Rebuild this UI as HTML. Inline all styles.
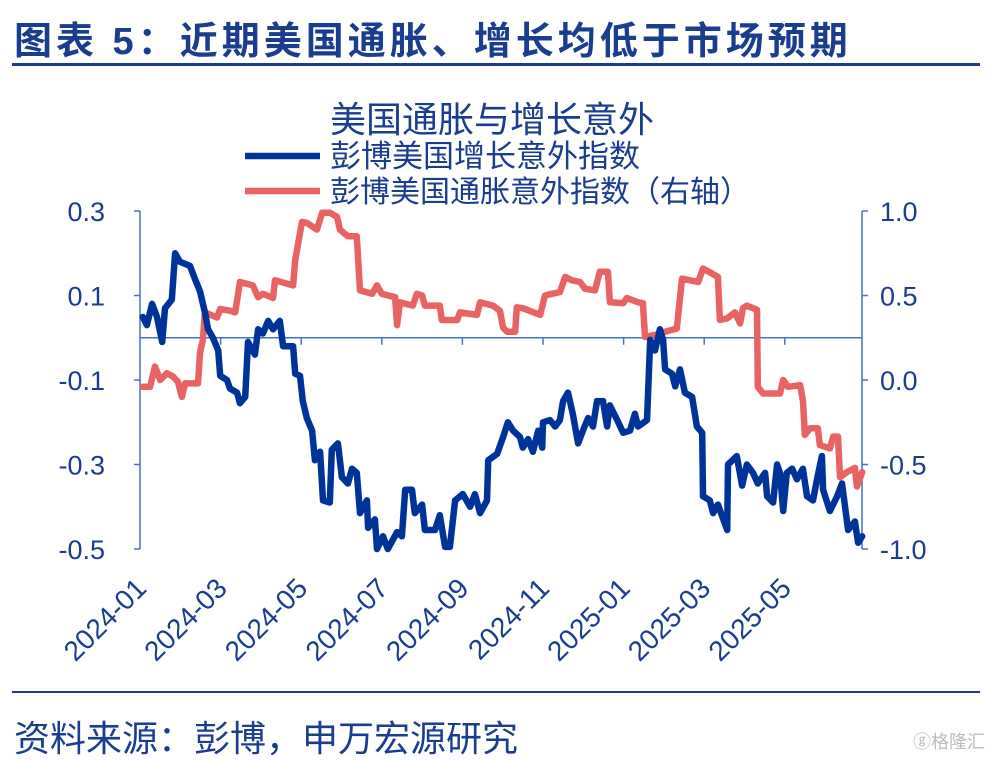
<!DOCTYPE html>
<html><head><meta charset="utf-8">
<style>
body{margin:0;background:#fff;}
svg{display:block;font-family:"Liberation Sans","Noto Sans CJK SC",sans-serif;}
</style></head>
<body>
<svg id="chart" width="990" height="760" viewBox="0 0 990 760" xmlns="http://www.w3.org/2000/svg">
<text x="14" y="54" font-size="38" letter-spacing="4" font-weight="bold" fill="#1a3d8f">图表 5：近期美国通胀、增长均低于市场预期</text>
<rect x="12" y="63" width="968" height="3" fill="#1a3d8f"/>
<text x="330" y="132" font-size="36" fill="#1a3d8f">美国通胀与增长意外</text>
<g>
<line x1="245" y1="156" x2="320" y2="156" stroke="#003399" stroke-width="6.5"/>
<text x="330" y="167" font-size="31" fill="#1a3d8f">彭博美国增长意外指数</text>
</g>
<g>
<line x1="245" y1="191" x2="320" y2="191" stroke="#e86464" stroke-width="6.5"/>
<text x="330" y="202" font-size="30" fill="#1a3d8f">彭博美国通胀意外指数（右轴）</text>
</g>
<g id="axes"></g>
<g id="series"></g>
<rect x="12" y="691" width="968" height="2" fill="#1a3d8f"/>
<text x="14" y="751" font-size="36" fill="#1a3d8f">资料来源：彭博，申万宏源研究</text>
<text x="985" y="748" font-size="18" text-anchor="end" fill="#bbbbbb">ⓖ格隆汇</text>
</svg>
<script>
const leftTicks=[0.3,0.1,-0.1,-0.3,-0.5];
const leftTickLabels=["0.3","0.1","-0.1","-0.3","-0.5"];
const rightTicks=[1.0,0.5,0.0,-0.5,-1.0];
const rightTickLabels=["1.0","0.5","0.0","-0.5","-1.0"];
const monthTicks=[0,2,4,6,8,10,12,14,16];
const monthLabels=["2024-01","2024-03","2024-05","2024-07","2024-09","2024-11","2025-01","2025-03","2025-05"];
const growthMonths=[0.07,0.17,0.30,0.42,0.55,0.62,0.79,0.87,0.99,1.24,1.36,1.49,1.61,1.69,1.81,1.94,1.99,2.16,2.23,2.41,2.48,2.61,2.68,2.85,2.93,3.05,3.18,3.30,3.47,3.55,3.80,3.85,3.97,4.04,4.14,4.27,4.34,4.47,4.54,4.71,4.76,4.91,5.01,5.16,5.26,5.38,5.46,5.63,5.66,5.83,5.88,6.03,6.15,6.38,6.50,6.58,6.75,6.82,7.00,7.07,7.32,7.44,7.57,7.69,7.82,8.01,8.19,8.31,8.44,8.61,8.64,8.86,9.01,9.13,9.26,9.43,9.50,9.63,9.75,9.88,9.98,10.00,10.17,10.30,10.42,10.50,10.62,10.74,10.87,10.99,11.12,11.24,11.34,11.49,11.59,11.66,11.84,11.99,12.16,12.28,12.36,12.58,12.66,12.78,12.90,12.98,13.03,13.20,13.28,13.40,13.52,13.70,13.82,13.95,13.97,14.14,14.22,14.34,14.57,14.59,14.81,14.94,15.06,15.21,15.33,15.51,15.56,15.71,15.81,15.88,15.96,16.05,16.18,16.30,16.45,16.55,16.70,16.80,16.92,16.95,17.12,17.30,17.42,17.57,17.74,17.82,17.92];
const growthValues=[0.049,0.03,0.08,0.05,-0.01,0.07,0.09,0.2,0.18,0.17,0.14,0.11,0.06,0.02,0,-0.03,-0.09,-0.1,-0.12,-0.13,-0.155,-0.14,-0.01,-0.04,0.02,0.01,0.04,0.02,0.04,-0.02,-0.02,-0.085,-0.09,-0.15,-0.19,-0.22,-0.29,-0.27,-0.385,-0.39,-0.265,-0.25,-0.33,-0.345,-0.31,-0.32,-0.415,-0.385,-0.45,-0.43,-0.5,-0.47,-0.5,-0.46,-0.47,-0.36,-0.36,-0.415,-0.395,-0.455,-0.455,-0.42,-0.495,-0.495,-0.385,-0.37,-0.4,-0.37,-0.415,-0.385,-0.29,-0.275,-0.235,-0.2,-0.22,-0.235,-0.26,-0.24,-0.27,-0.22,-0.26,-0.2,-0.195,-0.21,-0.195,-0.15,-0.13,-0.18,-0.25,-0.22,-0.19,-0.21,-0.15,-0.15,-0.21,-0.16,-0.195,-0.225,-0.22,-0.18,-0.21,-0.195,-0.005,-0.03,0.02,-0.005,-0.075,-0.085,-0.115,-0.075,-0.13,-0.14,-0.21,-0.225,-0.375,-0.385,-0.415,-0.395,-0.455,-0.3,-0.28,-0.35,-0.3,-0.32,-0.345,-0.32,-0.375,-0.39,-0.3,-0.32,-0.41,-0.32,-0.31,-0.335,-0.31,-0.375,-0.385,-0.335,-0.28,-0.36,-0.41,-0.375,-0.345,-0.455,-0.435,-0.485,-0.47];
const inflationMonths=[0.07,0.25,0.37,0.50,0.67,0.82,0.94,1.04,1.12,1.44,1.49,1.56,1.61,1.91,1.99,2.23,2.36,2.41,2.48,2.80,2.93,3.05,3.30,3.35,3.80,3.85,4.02,4.14,4.39,4.52,4.71,4.89,4.96,5.16,5.38,5.46,5.76,5.88,6.00,6.33,6.38,6.45,6.77,6.87,7.00,7.07,7.44,7.49,7.87,7.94,8.36,8.44,8.76,8.93,9.01,9.11,9.31,9.35,9.50,9.93,10.05,10.22,10.42,10.55,10.72,10.92,11.04,11.29,11.41,11.61,11.66,11.99,12.08,12.36,12.48,12.53,12.83,13.03,13.32,13.45,13.65,13.85,13.97,14.19,14.34,14.39,14.57,14.76,14.89,14.96,15.06,15.31,15.33,15.46,15.88,15.96,16.08,16.38,16.45,16.50,16.63,16.82,16.87,17.12,17.20,17.32,17.37,17.54,17.74,17.79,17.92];
const inflationValues=[-0.04,-0.04,0.08,0.0,0.04,0.02,-0.01,-0.1,-0.02,-0.02,0.16,0.24,0.4,0.37,0.42,0.41,0.4,0.47,0.58,0.56,0.49,0.51,0.485,0.59,0.56,0.71,0.935,0.93,0.89,0.99,0.99,0.965,0.89,0.85,0.85,0.53,0.51,0.56,0.51,0.49,0.325,0.46,0.44,0.51,0.5,0.44,0.44,0.355,0.355,0.4,0.385,0.46,0.44,0.41,0.31,0.285,0.285,0.43,0.425,0.385,0.5,0.51,0.52,0.61,0.59,0.58,0.54,0.53,0.64,0.64,0.46,0.455,0.485,0.46,0.455,0.255,0.27,0.285,0.305,0.6,0.59,0.58,0.66,0.63,0.61,0.355,0.365,0.4,0.335,0.425,0.44,0.415,-0.04,-0.08,-0.08,0.0,-0.04,-0.03,-0.12,-0.325,-0.285,-0.285,-0.385,-0.405,-0.335,-0.335,-0.575,-0.545,-0.52,-0.63,-0.545];

const NS="http://www.w3.org/2000/svg";
const X0=140,X1=862,YT=211,YB=549,PXM=40.3;
const xs=m=>X0+m*PXM;
const yL=v=>YT+(0.3-v)/0.8*(YB-YT);
const yR=v=>YT+(1-v)/2*(YB-YT);
const axes=document.getElementById('axes'),series=document.getElementById('series');
function mk(tag,attrs,parent){const e=document.createElementNS(NS,tag);for(const k in attrs)e.setAttribute(k,attrs[k]);parent.appendChild(e);return e;}
const AX="#4472c4",TXT="#1a3d8f";
let e;
e=mk('line',{x1:X0,y1:YT,x2:X0,y2:YB,stroke:AX,'stroke-width':1.5},axes);


e=mk('line',{x1:X1,y1:YT,x2:X1,y2:YB,stroke:AX,'stroke-width':1.5},axes);


e=mk('line',{x1:X0,y1:yL(0),x2:X1,y2:yL(0),stroke:AX,'stroke-width':1.5},axes);


leftTicks.forEach((v,i)=>{
  e=mk('line',{x1:X0-6,y1:yL(v),x2:X0,y2:yL(v),stroke:AX,'stroke-width':1.5},axes);
  
  
  e=mk('text',{x:105,y:yL(v)+10,'font-size':27,'text-anchor':'end',fill:TXT},axes);
  e.textContent=leftTickLabels[i];
  
  
});
rightTicks.forEach((v,i)=>{
  e=mk('line',{x1:X1,y1:yR(v),x2:X1+6,y2:yR(v),stroke:AX,'stroke-width':1.5},axes);
  
  
  e=mk('text',{x:880,y:yR(v)+10,'font-size':27,fill:TXT},axes);
  e.textContent=rightTickLabels[i];
  
  
});
monthTicks.forEach((m,i)=>{
  const x=xs(m);
  if(i>0){
  e=mk('line',{x1:x,y1:yL(0),x2:x,y2:yL(0)+7,stroke:AX,'stroke-width':1.5},axes);
  
  
  }
  e=mk('text',{x:x+8,y:590,'font-size':28,'text-anchor':'end',fill:TXT,transform:`rotate(-45 ${x+8} 590)`},axes);
  e.textContent=monthLabels[i];
  
  
});
function line(ms,vs,yf,color,name){
  const d=ms.map((m,i)=>(i?'L':'M')+xs(m).toFixed(1)+','+yf(vs[i]).toFixed(1)).join(' ');
  const p=mk('path',{d:d,fill:'none',stroke:color,'stroke-width':6.5,'stroke-linejoin':'round','stroke-linecap':'round'},series);
  
  
}
line(inflationMonths,inflationValues,yR,'#e86464','inflation-surprise-line');
line(growthMonths,growthValues,yL,'#003399','growth-surprise-line');
</script>
</body></html>
